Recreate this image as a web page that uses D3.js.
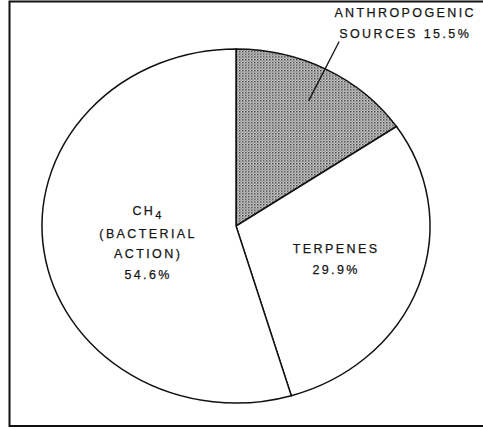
<!DOCTYPE html>
<html>
<head>
<meta charset="utf-8">
<script src="https://cdn.jsdelivr.net/npm/d3@7"></script>
<style>
  html, body { margin: 0; padding: 0; background: #fff; }
  svg text { font-family: "Liberation Sans", Arial, sans-serif; fill: #151515; stroke: #151515; stroke-width: 0.25px; }
</style>
</head>
<body>
<svg id="chart"></svg>
<script>
// Source shares (%), clockwise from 12 o'clock
const labels = ['ANTHROPOGENIC SOURCES', 'TERPENES', 'CH4 (BACTERIAL ACTION)'];
const values = [15.5, 29.9, 54.6];
const fills = ['url(#stipple)', '#fff', '#fff'];

const width = 483;
const height = 429;

const svg = d3.select('#chart')
  .attr('width', width)
  .attr('height', height);

// stipple pattern for the shaded slice
const defs = svg.append('defs');
const pat = defs.append('pattern')
  .attr('id', 'stipple')
  .attr('width', 3)
  .attr('height', 3)
  .attr('patternUnits', 'userSpaceOnUse');
pat.append('rect').attr('width', 3).attr('height', 3).attr('fill', '#d2d2d2');
pat.append('rect').attr('width', 1.5).attr('height', 1.5).attr('fill', '#3a3a3a');
pat.append('rect').attr('x', 1.5).attr('y', 1.5).attr('width', 1.3).attr('height', 1.3).attr('fill', '#777');

// frame
svg.append('rect')
  .attr('x', 9.5)
  .attr('y', 1.5)
  .attr('width', 490)
  .attr('height', 424.5)
  .attr('fill', 'none')
  .attr('stroke', '#111')
  .attr('stroke-width', 2);

// pie is drawn slightly squashed vertically, like the scan
const cx = 236, cy = 226, rx = 194, ry = 177;
const sy = ry / rx;

const pie = d3.pie().sort(null).value(d => d)(values);
const arc = d3.arc().innerRadius(0).outerRadius(rx);

const g = svg.append('g')
  .attr('transform', `translate(${cx}, ${cy}) scale(1, ${sy})`);

g.selectAll('path.slice')
  .data(pie)
  .enter()
  .append('path')
  .attr('class', 'slice')
  .attr('d', arc)
  .attr('fill', (d, i) => fills[i])
  .attr('stroke', '#111')
  .attr('stroke-width', 1.5)
  .attr('vector-effect', 'non-scaling-stroke');

// map a point in pie space to page space
const toPage = p => [cx + p[0], cy + p[1] * sy];

// leader line for the anthropogenic slice
const innerPt = toPage(d3.arc().innerRadius(rx * 0.8).outerRadius(rx * 0.8).centroid(pie[0]));
const a0 = (pie[0].startAngle + pie[0].endAngle) / 2 - 0.015;
const outerPt = toPage([Math.sin(a0) * rx * 1.17, -Math.cos(a0) * rx * 1.17]);
svg.append('line')
  .attr('x1', outerPt[0]).attr('y1', outerPt[1])
  .attr('x2', innerPt[0]).attr('y2', innerPt[1])
  .attr('stroke', '#111')
  .attr('stroke-width', 1.3);

const fs = 12.5;
const lsp = 2.4;

function block(x, y, lines) {
  const t = svg.append('g');
  lines.forEach((ln, i) => {
    t.append('text')
      .attr('x', x + lsp / 2)
      .attr('y', y + i * 20.5)
      .attr('text-anchor', 'middle')
      .attr('font-size', fs)
      .attr('letter-spacing', lsp + 'px')
      .text(ln);
  });
  return t;
}

// anthropogenic label, top right
block(404, 17, ['ANTHROPOGENIC', `SOURCES ${values[0]}%`]);

// terpenes label
const tp = toPage(d3.arc().innerRadius(105).outerRadius(105).centroid(pie[1]));
block(tp[0], tp[1] - 5, ['TERPENES', `${values[1]}%`]);

// methane label with subscript
const mp = toPage(d3.arc().innerRadius(90).outerRadius(90).centroid(pie[2]));
const ch = svg.append('text')
  .attr('x', mp[0] + lsp / 2)
  .attr('y', mp[1] - 23)
  .attr('text-anchor', 'middle')
  .attr('font-size', fs)
  .attr('letter-spacing', lsp + 'px');
ch.append('tspan').text('CH');
ch.append('tspan').attr('dy', 4).attr('font-size', 11).text('4');
block(mp[0], mp[1], ['(BACTERIAL', 'ACTION)', `${values[2]}%`]);
</script>
</body>
</html>
